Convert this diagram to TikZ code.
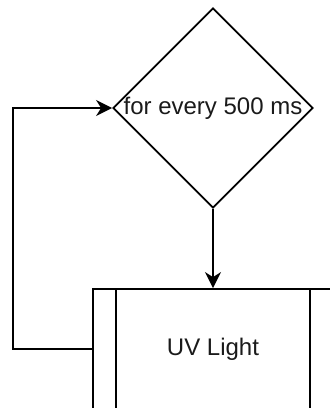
\documentclass[tikz,border=0pt]{standalone}
\usepackage{fontspec}
\setmainfont{Liberation Sans}
\usetikzlibrary{arrows.meta,shapes.geometric}
\definecolor{ink}{HTML}{1A1A1A}
\tikzset{
  every picture/.style={font=\fontsize{24}{28}\selectfont, line join=miter, >=Stealth},
  decision/.style={draw, diamond, minimum width=200pt, minimum height=200pt, inner sep=0pt, line width=1.8pt},
  process/.style={draw, rectangle, minimum width=240pt, minimum height=120pt, line width=1.8pt},
  flow/.style={-{Stealth[length=16pt,width=16pt,inset=5pt]}, line width=1.8pt},
}

\begin{document}
\begin{tikzpicture}[x=1pt,y=-1pt]
\useasboundingbox (0,0) rectangle (330,408);
\clip (0,0) rectangle (330,408);
% shapes
\node[decision, label={[text=ink]center:for every 500 ms}] (check) at (213,108) {};
\node[process, text=ink] (uv) at (213,349) {UV Light};
\draw[line width=1.8pt] ([xshift=24pt]uv.north west) -- ([xshift=24pt]uv.south west);
\draw[line width=1.8pt] ([xshift=-24pt]uv.north east) -- ([xshift=-24pt]uv.south east);
% connectors
\coordinate (loop) at (13,349);
\draw[flow] (check.south) -- (uv.north);
\draw[flow] (uv.west) -- (loop) |- (check.west);
\end{tikzpicture}
\end{document}
